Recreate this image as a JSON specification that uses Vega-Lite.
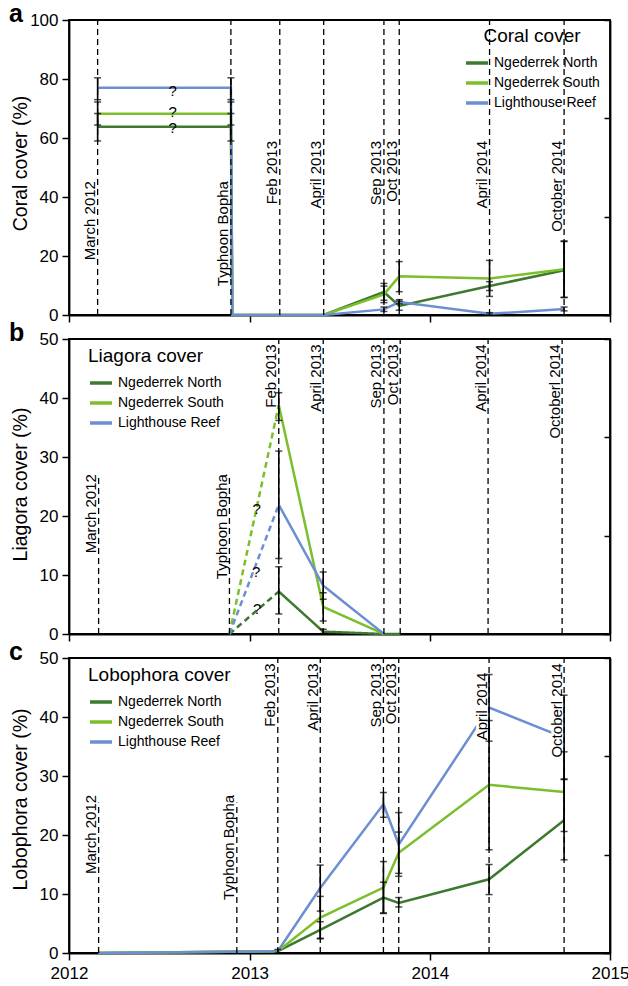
{
  "$schema": "https://vega.github.io/schema/vega-lite/v6.json",
  "padding": {"left": 8, "top": 0, "right": 0, "bottom": 4},
  "datasets": {
    "coral": [
      {"site": "Ngederrek North", "date": "2012-02-28", "v": 63.8, "lo": 59.0, "hi": 68.3},
      {"site": "Ngederrek North", "date": "2012-11-24", "v": 63.8, "lo": 59.0, "hi": 68.3},
      {"site": "Ngederrek North", "date": "2012-11-27", "v": 0},
      {"site": "Ngederrek North", "date": "2013-03-03", "v": 0},
      {"site": "Ngederrek North", "date": "2013-05-31", "v": 0},
      {"site": "Ngederrek North", "date": "2013-09-30", "v": 7.8, "lo": 5.0, "hi": 10.7},
      {"site": "Ngederrek North", "date": "2013-10-31", "v": 3.1, "lo": 1.6, "hi": 4.7},
      {"site": "Ngederrek North", "date": "2014-05-02", "v": 9.8, "lo": 8.3, "hi": 11.3},
      {"site": "Ngederrek North", "date": "2014-09-30", "v": 15.2, "lo": 6.0, "hi": 24.9},
      {"site": "Ngederrek South", "date": "2012-02-28", "v": 68.2, "lo": 64.4, "hi": 72.2},
      {"site": "Ngederrek South", "date": "2012-11-24", "v": 68.2, "lo": 64.4, "hi": 72.2},
      {"site": "Ngederrek South", "date": "2012-11-27", "v": 0},
      {"site": "Ngederrek South", "date": "2013-03-03", "v": 0},
      {"site": "Ngederrek South", "date": "2013-05-31", "v": 0},
      {"site": "Ngederrek South", "date": "2013-09-30", "v": 7.0, "lo": 4.2, "hi": 9.8},
      {"site": "Ngederrek South", "date": "2013-10-31", "v": 13.1, "lo": 7.9, "hi": 18.1},
      {"site": "Ngederrek South", "date": "2014-05-02", "v": 12.4, "lo": 6.3, "hi": 18.5},
      {"site": "Ngederrek South", "date": "2014-09-30", "v": 15.5, "lo": 5.9, "hi": 25.1},
      {"site": "Lighthouse Reef", "date": "2012-02-28", "v": 77.0, "lo": 73.0, "hi": 80.4},
      {"site": "Lighthouse Reef", "date": "2012-11-24", "v": 77.0, "lo": 73.0, "hi": 80.4},
      {"site": "Lighthouse Reef", "date": "2012-11-27", "v": 0},
      {"site": "Lighthouse Reef", "date": "2013-03-03", "v": 0},
      {"site": "Lighthouse Reef", "date": "2013-05-31", "v": 0},
      {"site": "Lighthouse Reef", "date": "2013-09-30", "v": 1.9, "lo": 1.2, "hi": 2.7},
      {"site": "Lighthouse Reef", "date": "2013-10-31", "v": 4.4, "lo": 3.8, "hi": 5.2},
      {"site": "Lighthouse Reef", "date": "2014-05-02", "v": 0.4, "lo": 0.0, "hi": 0.8},
      {"site": "Lighthouse Reef", "date": "2014-09-30", "v": 2.0, "lo": 1.4, "hi": 2.7}
    ],
    "liagora": [
      {"site": "Ngederrek North", "seg": "dashed", "date": "2012-11-21", "v": 0},
      {"site": "Ngederrek North", "seg": "dashed", "date": "2013-03-01", "v": 7.2},
      {"site": "Ngederrek North", "seg": "solid", "date": "2013-03-01", "v": 7.2, "lo": 3.4, "hi": 11.4},
      {"site": "Ngederrek North", "seg": "solid", "date": "2013-05-30", "v": 0.4, "lo": 0.1, "hi": 0.8},
      {"site": "Ngederrek North", "seg": "solid", "date": "2013-09-30", "v": 0},
      {"site": "Ngederrek North", "seg": "solid", "date": "2013-11-02", "v": 0},
      {"site": "Ngederrek South", "seg": "dashed", "date": "2012-11-21", "v": 0},
      {"site": "Ngederrek South", "seg": "dashed", "date": "2013-03-01", "v": 38.8},
      {"site": "Ngederrek South", "seg": "solid", "date": "2013-03-01", "v": 38.8, "lo": 36.2, "hi": 40.9},
      {"site": "Ngederrek South", "seg": "solid", "date": "2013-05-30", "v": 4.6, "lo": 2.2, "hi": 7.0},
      {"site": "Ngederrek South", "seg": "solid", "date": "2013-09-30", "v": 0},
      {"site": "Lighthouse Reef", "seg": "dashed", "date": "2012-11-21", "v": 0},
      {"site": "Lighthouse Reef", "seg": "dashed", "date": "2013-03-01", "v": 21.9},
      {"site": "Lighthouse Reef", "seg": "solid", "date": "2013-03-01", "v": 21.9, "lo": 12.8, "hi": 31.0},
      {"site": "Lighthouse Reef", "seg": "solid", "date": "2013-05-30", "v": 8.2, "lo": 5.9, "hi": 10.5},
      {"site": "Lighthouse Reef", "seg": "solid", "date": "2013-09-30", "v": 0}
    ],
    "lobophora": [
      {"site": "Ngederrek North", "date": "2012-03-01", "v": 0},
      {"site": "Ngederrek North", "date": "2013-02-27", "v": 0.3, "lo": 0.0, "hi": 0.6},
      {"site": "Ngederrek North", "date": "2013-05-24", "v": 3.9, "lo": 2.5, "hi": 5.3},
      {"site": "Ngederrek North", "date": "2013-09-29", "v": 9.4, "lo": 6.8, "hi": 12.0},
      {"site": "Ngederrek North", "date": "2013-10-30", "v": 8.5, "lo": 7.8, "hi": 9.4},
      {"site": "Ngederrek North", "date": "2014-05-01", "v": 12.5, "lo": 9.9, "hi": 15.0},
      {"site": "Ngederrek North", "date": "2014-09-30", "v": 22.5, "lo": 15.8, "hi": 29.5},
      {"site": "Ngederrek South", "date": "2012-03-01", "v": 0},
      {"site": "Ngederrek South", "date": "2013-02-27", "v": 0.3},
      {"site": "Ngederrek South", "date": "2013-05-24", "v": 6.0, "lo": 2.4, "hi": 9.6},
      {"site": "Ngederrek South", "date": "2013-09-29", "v": 11.1, "lo": 6.7, "hi": 15.5},
      {"site": "Ngederrek South", "date": "2013-10-30", "v": 17.0, "lo": 13.5, "hi": 20.5},
      {"site": "Ngederrek South", "date": "2014-05-01", "v": 28.5, "lo": 17.5, "hi": 39.4},
      {"site": "Ngederrek South", "date": "2014-09-30", "v": 27.3, "lo": 20.6, "hi": 34.1},
      {"site": "Lighthouse Reef", "date": "2012-03-01", "v": 0},
      {"site": "Lighthouse Reef", "date": "2013-02-27", "v": 0.3},
      {"site": "Lighthouse Reef", "date": "2013-05-24", "v": 11.0, "lo": 7.1, "hi": 14.9},
      {"site": "Lighthouse Reef", "date": "2013-09-29", "v": 25.2, "lo": 23.0, "hi": 27.2},
      {"site": "Lighthouse Reef", "date": "2013-10-30", "v": 18.4, "lo": 13.0, "hi": 23.8},
      {"site": "Lighthouse Reef", "date": "2014-05-01", "v": 41.6, "lo": 35.9, "hi": 47.2},
      {"site": "Lighthouse Reef", "date": "2014-09-30", "v": 36.5, "lo": 29.4, "hi": 43.7}
    ],
    "events_a": [
      {"event": "March 2012", "date": "2012-02-28"},
      {"event": "Typhoon Bopha", "date": "2012-11-24"},
      {"event": "Feb 2013", "date": "2013-03-03"},
      {"event": "April 2013", "date": "2013-05-31"},
      {"event": "Sep 2013", "date": "2013-09-30"},
      {"event": "Oct 2013", "date": "2013-10-31"},
      {"event": "April 2014", "date": "2014-05-02"},
      {"event": "October 2014", "date": "2014-09-30"}
    ],
    "events_b": [
      {"event": "March 2012", "date": "2012-03-01"},
      {"event": "Typhoon Bopha", "date": "2012-11-21"},
      {"event": "Feb 2013", "date": "2013-03-01"},
      {"event": "April 2013", "date": "2013-05-30"},
      {"event": "Sep 2013", "date": "2013-09-30"},
      {"event": "Oct 2013", "date": "2013-11-02"},
      {"event": "April 2014", "date": "2014-04-29"},
      {"event": "Octoberl 2014", "date": "2014-09-26"}
    ],
    "events_c": [
      {"event": "March 2012", "date": "2012-03-01"},
      {"event": "Typhoon Bopha", "date": "2012-12-06"},
      {"event": "Feb 2013", "date": "2013-02-27"},
      {"event": "April 2013", "date": "2013-05-24"},
      {"event": "Sep 2013", "date": "2013-09-29"},
      {"event": "Oct 2013", "date": "2013-10-30"},
      {"event": "April 2014", "date": "2014-05-01"},
      {"event": "Octoberl 2014", "date": "2014-09-30"}
    ],
    "q": [
      {"panel": "a", "date": "2012-07-29", "v": 76.0, "t": "?"},
      {"panel": "a", "date": "2012-07-29", "v": 68.9, "t": "?"},
      {"panel": "a", "date": "2012-07-29", "v": 63.4, "t": "?"},
      {"panel": "b", "date": "2013-01-15", "v": 21.2, "t": "?"},
      {"panel": "b", "date": "2013-01-14", "v": 10.5, "t": "?"},
      {"panel": "b", "date": "2013-01-16", "v": 4.2, "t": "?"}
    ]
  },
  "vconcat": [
    {
      "width": 541, "height": 295,
      "title": {"text": "a", "anchor": "start", "frame": "group", "dx": -60, "dy": 23, "offset": -12.5, "baseline": "alphabetic", "fontSize": 25, "fontWeight": "bold", "color": "black"},
      "resolve": {"axis": {"y": "independent"}},
      "layer": [
        {
          "data": {"name": "coral"},
          "mark": {"type": "line", "strokeWidth": 2.5},
          "encoding": {
            "x": {"field": "date", "type": "temporal",
                  "scale": {"domain": [{"year": 2012, "month": 1, "date": 1}, {"year": 2015, "month": 1, "date": 1}]},
                  "axis": {"title": null, "labels": false, "values": [{"year": 2012, "month": 1, "date": 1}, {"year": 2013, "month": 1, "date": 1}, {"year": 2014, "month": 1, "date": 1}, {"year": 2015, "month": 1, "date": 1}]}},
            "y": {"field": "v", "type": "quantitative", "scale": {"domain": [0, 100], "nice": false},
                  "axis": {"title": "Coral cover (%)", "values": [0, 20, 40, 60, 80, 100], "titleX": -43, "titleY": 143, "titleBaseline": "alphabetic", "labelPadding": 4}},
            "color": {"field": "site", "type": "nominal",
                      "scale": {"domain": ["Ngederrek North", "Ngederrek South", "Lighthouse Reef"], "range": ["#3d7a2f", "#7cbf2c", "#6d8fd1"]},
                      "legend": {"title": "Coral cover", "orient": "none", "legendX": 395, "legendY": 7, "titleAnchor": "middle", "titlePadding": 4, "rowPadding": -2, "labelOffset": 4}}
          }
        },
        {
          "data": {"name": "events_a"},
          "mark": {"type": "rule", "color": "black", "strokeWidth": 1.3, "strokeDash": [6, 4]},
          "encoding": {"x": {"field": "date", "type": "temporal"}, "y": {"datum": 0, "axis": null}, "y2": {"datum": 100}}
        },
        {
          "data": {"name": "events_a"},
          "transform": [{"filter": "datum.event == 'March 2012' || datum.event == 'Typhoon Bopha'"}],
          "mark": {"type": "text", "angle": 270, "align": "right", "baseline": "alphabetic", "dy": -2.5, "fontSize": 15, "color": "black"},
          "encoding": {"x": {"field": "date", "type": "temporal"}, "y": {"datum": 45.4, "axis": null}, "text": {"field": "event"}}
        },
        {
          "data": {"name": "events_a"},
          "transform": [{"filter": "datum.event != 'March 2012' && datum.event != 'Typhoon Bopha'"}],
          "mark": {"type": "text", "angle": 270, "align": "right", "baseline": "alphabetic", "dy": -2.5, "fontSize": 15, "color": "black"},
          "encoding": {"x": {"field": "date", "type": "temporal"}, "y": {"datum": 59, "axis": null}, "text": {"field": "event"}}
        },
        {
          "data": {"name": "coral"},
          "transform": [{"filter": "isValid(datum.lo)"}],
          "mark": {"type": "rule", "color": "black", "strokeWidth": 1.6},
          "encoding": {"x": {"field": "date", "type": "temporal"},
                       "y": {"field": "lo", "type": "quantitative", "axis": {"orient": "right", "title": null, "labels": false, "values": [0, 33.333, 66.667, 100], "tickSize": -6}},
                       "y2": {"field": "hi"}}
        },
        {
          "data": {"name": "coral"},
          "transform": [{"filter": "isValid(datum.lo)"}, {"fold": ["lo", "hi"], "as": ["k", "ev"]}],
          "mark": {"type": "tick", "orient": "horizontal", "size": 7, "thickness": 1.5, "color": "black"},
          "encoding": {"x": {"field": "date", "type": "temporal"}, "y": {"field": "ev", "type": "quantitative", "axis": null}}
        },
        {
          "data": {"name": "q"},
          "transform": [{"filter": "datum.panel == 'a'"}],
          "mark": {"type": "text", "fontSize": 15, "baseline": "middle", "color": "black"},
          "encoding": {"x": {"field": "date", "type": "temporal"}, "y": {"field": "v", "type": "quantitative", "axis": null}, "text": {"field": "t"}}
        }
      ]
    },
    {
      "width": 541, "height": 295,
      "title": {"text": "b", "anchor": "start", "frame": "group", "dx": -60, "dy": 23, "offset": -12.5, "baseline": "alphabetic", "fontSize": 25, "fontWeight": "bold", "color": "black"},
      "resolve": {"axis": {"y": "independent"}},
      "layer": [
        {
          "data": {"name": "liagora"},
          "mark": {"type": "line", "strokeWidth": 2.5},
          "encoding": {
            "x": {"field": "date", "type": "temporal",
                  "scale": {"domain": [{"year": 2012, "month": 1, "date": 1}, {"year": 2015, "month": 1, "date": 1}]},
                  "axis": {"title": null, "labels": false, "values": [{"year": 2012, "month": 1, "date": 1}, {"year": 2013, "month": 1, "date": 1}, {"year": 2014, "month": 1, "date": 1}, {"year": 2015, "month": 1, "date": 1}]}},
            "y": {"field": "v", "type": "quantitative", "scale": {"domain": [0, 50], "nice": false},
                  "axis": {"title": "Liagora cover (%)", "values": [0, 10, 20, 30, 40, 50], "titleX": -43, "titleY": 145, "titleBaseline": "alphabetic", "labelPadding": 4}},
            "color": {"field": "site", "type": "nominal",
                      "scale": {"domain": ["Ngederrek North", "Ngederrek South", "Lighthouse Reef"], "range": ["#3d7a2f", "#7cbf2c", "#6d8fd1"]},
                      "legend": {"title": "Liagora cover", "orient": "none", "legendX": 19, "legendY": 8, "titlePadding": 4, "rowPadding": -6, "labelOffset": 4}},
            "strokeDash": {"field": "seg", "type": "nominal", "scale": {"domain": ["dashed", "solid"], "range": [[6, 4], [1, 0]]}, "legend": null}
          }
        },
        {
          "data": {"name": "events_b"},
          "transform": [{"filter": "datum.event == 'March 2012' || datum.event == 'Typhoon Bopha'"}],
          "mark": {"type": "rule", "color": "black", "strokeWidth": 1.3, "strokeDash": [6, 4]},
          "encoding": {"x": {"field": "date", "type": "temporal"}, "y": {"datum": 0, "axis": null}, "y2": {"datum": 27}}
        },
        {
          "data": {"name": "events_b"},
          "transform": [{"filter": "datum.event != 'March 2012' && datum.event != 'Typhoon Bopha'"}],
          "mark": {"type": "rule", "color": "black", "strokeWidth": 1.3, "strokeDash": [6, 4]},
          "encoding": {"x": {"field": "date", "type": "temporal"}, "y": {"datum": 0, "axis": null}, "y2": {"datum": 50}}
        },
        {
          "data": {"name": "events_b"},
          "transform": [{"filter": "datum.event == 'March 2012' || datum.event == 'Typhoon Bopha'"}],
          "mark": {"type": "text", "angle": 270, "align": "right", "baseline": "alphabetic", "dy": -2.5, "fontSize": 15, "color": "black"},
          "encoding": {"x": {"field": "date", "type": "temporal"}, "y": {"datum": 27.1, "axis": null}, "text": {"field": "event"}}
        },
        {
          "data": {"name": "events_b"},
          "transform": [{"filter": "datum.event != 'March 2012' && datum.event != 'Typhoon Bopha'"}],
          "mark": {"type": "text", "angle": 270, "align": "right", "baseline": "alphabetic", "dy": -2.5, "fontSize": 15, "color": "black"},
          "encoding": {"x": {"field": "date", "type": "temporal"}, "y": {"datum": 49.1, "axis": null}, "text": {"field": "event"}}
        },
        {
          "data": {"name": "liagora"},
          "transform": [{"filter": "isValid(datum.lo)"}],
          "mark": {"type": "rule", "color": "black", "strokeWidth": 1.6},
          "encoding": {"x": {"field": "date", "type": "temporal"},
                       "y": {"field": "lo", "type": "quantitative", "axis": {"orient": "right", "title": null, "labels": false, "values": [0, 16.667, 33.333, 50], "tickSize": -6}},
                       "y2": {"field": "hi"}}
        },
        {
          "data": {"name": "liagora"},
          "transform": [{"filter": "isValid(datum.lo)"}, {"fold": ["lo", "hi"], "as": ["k", "ev"]}],
          "mark": {"type": "tick", "orient": "horizontal", "size": 7, "thickness": 1.5, "color": "black"},
          "encoding": {"x": {"field": "date", "type": "temporal"}, "y": {"field": "ev", "type": "quantitative", "axis": null}}
        },
        {
          "data": {"name": "q"},
          "transform": [{"filter": "datum.panel == 'b'"}],
          "mark": {"type": "text", "fontSize": 15, "baseline": "middle", "color": "black"},
          "encoding": {"x": {"field": "date", "type": "temporal"}, "y": {"field": "v", "type": "quantitative", "axis": null}, "text": {"field": "t"}}
        }
      ]
    },
    {
      "width": 541, "height": 295,
      "title": {"text": "c", "anchor": "start", "frame": "group", "dx": -60, "dy": 23, "offset": -12.5, "baseline": "alphabetic", "fontSize": 25, "fontWeight": "bold", "color": "black"},
      "resolve": {"axis": {"y": "independent"}},
      "layer": [
        {
          "data": {"name": "lobophora"},
          "mark": {"type": "line", "strokeWidth": 2.5},
          "encoding": {
            "x": {"field": "date", "type": "temporal",
                  "scale": {"domain": [{"year": 2012, "month": 1, "date": 1}, {"year": 2015, "month": 1, "date": 1}]},
                  "axis": {"title": null, "format": "%Y", "labelFlush": false, "labelOverlap": false, "labelPadding": 5, "values": [{"year": 2012, "month": 1, "date": 1}, {"year": 2013, "month": 1, "date": 1}, {"year": 2014, "month": 1, "date": 1}, {"year": 2015, "month": 1, "date": 1}]}},
            "y": {"field": "v", "type": "quantitative", "scale": {"domain": [0, 50], "nice": false},
                  "axis": {"title": "Lobophora cover (%)", "values": [0, 10, 20, 30, 40, 50], "titleX": -43, "titleY": 141, "titleBaseline": "alphabetic", "labelPadding": 4}},
            "color": {"field": "site", "type": "nominal",
                      "scale": {"domain": ["Ngederrek North", "Ngederrek South", "Lighthouse Reef"], "range": ["#3d7a2f", "#7cbf2c", "#6d8fd1"]},
                      "legend": {"title": "Lobophora cover", "orient": "none", "legendX": 19, "legendY": 8, "titlePadding": 4, "rowPadding": -6, "labelOffset": 4}}
          }
        },
        {
          "data": {"name": "events_c"},
          "transform": [{"filter": "datum.event != 'March 2012' && datum.event != 'Typhoon Bopha' && datum.event != 'April 2014'"}],
          "mark": {"type": "text", "angle": 270, "align": "right", "baseline": "alphabetic", "dy": -2.5, "fontSize": 15, "color": "white", "stroke": "white", "strokeWidth": 6, "strokeJoin": "round"},
          "encoding": {"x": {"field": "date", "type": "temporal"}, "y": {"datum": 49.1, "axis": null}, "text": {"field": "event"}}
        },
        {
          "data": {"name": "events_c"},
          "transform": [{"filter": "datum.event == 'April 2014'"}],
          "mark": {"type": "text", "angle": 270, "align": "right", "baseline": "alphabetic", "dy": -2.5, "fontSize": 15, "color": "white", "stroke": "white", "strokeWidth": 6, "strokeJoin": "round"},
          "encoding": {"x": {"field": "date", "type": "temporal"}, "y": {"datum": 47.5, "axis": null}, "text": {"field": "event"}}
        },
        {
          "data": {"name": "events_c"},
          "transform": [{"filter": "datum.event == 'March 2012' || datum.event == 'Typhoon Bopha'"}],
          "mark": {"type": "rule", "color": "black", "strokeWidth": 1.3, "strokeDash": [6, 4]},
          "encoding": {"x": {"field": "date", "type": "temporal"}, "y": {"datum": 0, "axis": null}, "y2": {"datum": 25.5}}
        },
        {
          "data": {"name": "events_c"},
          "transform": [{"filter": "datum.event != 'March 2012' && datum.event != 'Typhoon Bopha'"}],
          "mark": {"type": "rule", "color": "black", "strokeWidth": 1.3, "strokeDash": [6, 4]},
          "encoding": {"x": {"field": "date", "type": "temporal"}, "y": {"datum": 0, "axis": null}, "y2": {"datum": 50}}
        },
        {
          "data": {"name": "events_c"},
          "transform": [{"filter": "datum.event == 'March 2012' || datum.event == 'Typhoon Bopha'"}],
          "mark": {"type": "text", "angle": 270, "align": "right", "baseline": "alphabetic", "dy": -2.5, "fontSize": 15, "color": "black"},
          "encoding": {"x": {"field": "date", "type": "temporal"}, "y": {"datum": 26.8, "axis": null}, "text": {"field": "event"}}
        },
        {
          "data": {"name": "events_c"},
          "transform": [{"filter": "datum.event != 'March 2012' && datum.event != 'Typhoon Bopha' && datum.event != 'April 2014'"}],
          "mark": {"type": "text", "angle": 270, "align": "right", "baseline": "alphabetic", "dy": -2.5, "fontSize": 15, "color": "black"},
          "encoding": {"x": {"field": "date", "type": "temporal"}, "y": {"datum": 49.1, "axis": null}, "text": {"field": "event"}}
        },
        {
          "data": {"name": "events_c"},
          "transform": [{"filter": "datum.event == 'April 2014'"}],
          "mark": {"type": "text", "angle": 270, "align": "right", "baseline": "alphabetic", "dy": -2.5, "fontSize": 15, "color": "black"},
          "encoding": {"x": {"field": "date", "type": "temporal"}, "y": {"datum": 47.5, "axis": null}, "text": {"field": "event"}}
        },
        {
          "data": {"name": "lobophora"},
          "transform": [{"filter": "isValid(datum.lo)"}],
          "mark": {"type": "rule", "color": "black", "strokeWidth": 1.6},
          "encoding": {"x": {"field": "date", "type": "temporal"},
                       "y": {"field": "lo", "type": "quantitative", "axis": {"orient": "right", "title": null, "labels": false, "values": [0, 16.667, 33.333, 50], "tickSize": -6}},
                       "y2": {"field": "hi"}}
        },
        {
          "data": {"name": "lobophora"},
          "transform": [{"filter": "isValid(datum.lo)"}, {"fold": ["lo", "hi"], "as": ["k", "ev"]}],
          "mark": {"type": "tick", "orient": "horizontal", "size": 7, "thickness": 1.5, "color": "black"},
          "encoding": {"x": {"field": "date", "type": "temporal"}, "y": {"field": "ev", "type": "quantitative", "axis": null}}
        }
      ]
    }
  ],
  "spacing": 24,
  "bounds": "flush",
  "resolve": {"scale": {"color": "independent", "strokeDash": "independent"}, "legend": {"color": "independent"}},
  "config": {
    "font": "Liberation Sans",
    "view": {"stroke": "black", "strokeWidth": 1.8},
    "axis": {"domainColor": "black", "domainWidth": 1.8, "tickColor": "black", "tickWidth": 1.5, "tickSize": 7,
             "labelColor": "black", "labelFontSize": 17, "labelFont": "Liberation Sans",
             "titleColor": "black", "titleFontSize": 19.5, "titleFontWeight": "normal", "titleFont": "Liberation Sans", "grid": false},
    "legend": {"labelFontSize": 14, "labelColor": "black", "labelFont": "Liberation Sans", "titleFontSize": 19, "titleFontWeight": "normal", "titleColor": "black", "titleFont": "Liberation Sans",
               "symbolStrokeWidth": 3.5, "symbolSize": 484, "symbolType": "stroke"},
    "title": {"font": "Liberation Sans"}
  }
}
